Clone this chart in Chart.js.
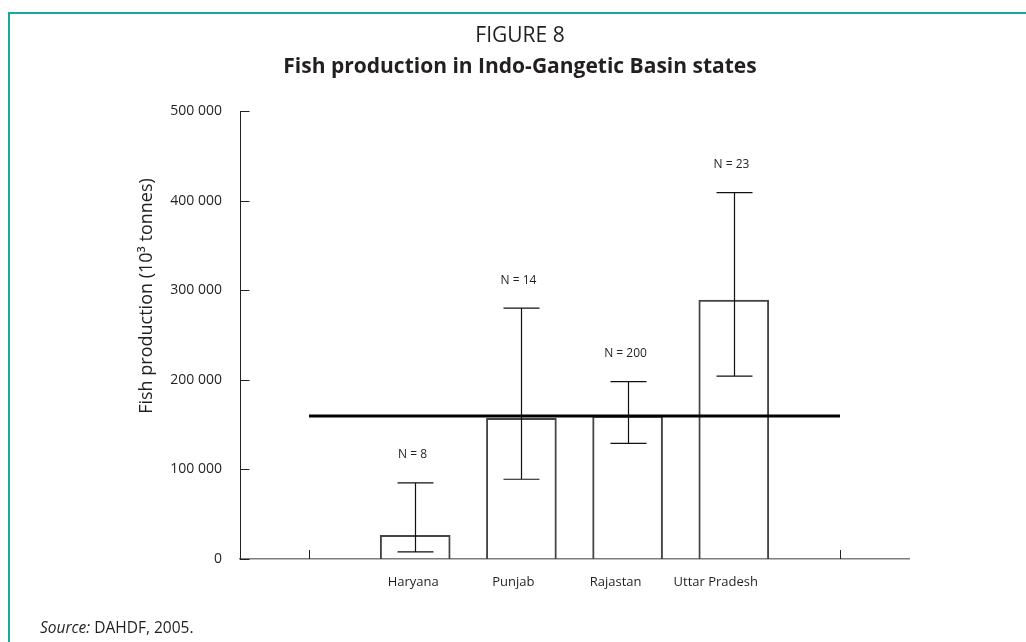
<!DOCTYPE html>
<html>
<head>
<meta charset="utf-8">
<script src="https://cdn.jsdelivr.net/npm/chart.js@4/dist/chart.umd.min.js"></script>
<style>
  html, body { margin: 0; padding: 0; background: #ffffff; }
  #wrap { width: 1026px; height: 642px; position: relative; }
  canvas { display: block; }
</style>
</head>
<body>
<div id="wrap"><canvas id="chart" width="1026" height="642"></canvas></div>
<script>
// ---- data ----
const states = ['Haryana', 'Punjab', 'Rajastan', 'Uttar Pradesh'];
const production = [26500, 157000, 159500, 289000];
const errorLow = [8000, 89000, 129000, 204000];
const errorHigh = [85000, 280000, 198000, 409000];
const sampleSizes = [8, 14, 200, 23];
const meanProduction = 159500;
const yTickValues = [0, 100000, 200000, 300000, 400000, 500000];

// ---- derived positions in category units ----
const slotOf = i => i + 2;                 // first and last slots are empty
const firstSlot = 1;
const lastSlot = states.length + 2;

const TEXT = '#231f20';
const FONT = '"Open Sans", "Noto Sans", sans-serif';
const fmt = v => String(v).replace(/\B(?=(\d{3})+(?!\d))/g, ' ');
const labelNudgePx = [-2, -8, -12, -18];

const decor = {
  id: 'decor',
  beforeDraw(chart) {
    const ctx = chart.ctx;
    ctx.save();
    ctx.fillStyle = '#ffffff';
    ctx.fillRect(0, 0, chart.width, chart.height);
    ctx.restore();
  },
  afterDraw(chart) {
    const { ctx, scales: { x, y } } = chart;
    ctx.save();
    // frame
    ctx.strokeStyle = '#1ba79d';
    ctx.lineWidth = 2;
    ctx.beginPath();
    ctx.moveTo(9, chart.height);
    ctx.lineTo(9, 13);
    ctx.lineTo(chart.width, 13);
    ctx.stroke();

    // titles
    ctx.fillStyle = TEXT;
    ctx.textAlign = 'center';
    ctx.textBaseline = 'middle';
    ctx.font = '21px ' + FONT;
    ctx.fillText('FIGURE 8', 520, 36);
    ctx.font = 'bold 21px ' + FONT;
    ctx.fillText('Fish production in Indo-Gangetic Basin states', 520, 67);

    // y axis title
    ctx.save();
    ctx.translate(147, 296);
    ctx.rotate(-Math.PI / 2);
    ctx.font = '18px ' + FONT;
    ctx.fillText('Fish production (10\u00B3 tonnes)', 0, 0);
    ctx.restore();

    // inward y ticks
    ctx.strokeStyle = '#222';
    ctx.lineWidth = 1;
    const ax = Math.round(x.left) + 0.5;
    y.ticks.forEach(t => {
      const py = Math.round(y.getPixelForValue(t.value)) + 0.5;
      ctx.beginPath();
      ctx.moveTo(ax, py);
      ctx.lineTo(ax + 9, py);
      ctx.stroke();
    });
    // upward x ticks at the empty end slots
    [firstSlot, lastSlot].forEach(v => {
      const px = Math.round(x.getPixelForValue(v)) + 0.5;
      ctx.beginPath();
      ctx.moveTo(px, y.bottom);
      ctx.lineTo(px, y.bottom - 9);
      ctx.stroke();
    });

    // error bars
    ctx.strokeStyle = '#111';
    ctx.lineWidth = 1.2;
    const cap = 18;
    states.forEach((s, i) => {
      const px = Math.round(x.getPixelForValue(slotOf(i))) + 0.5;
      const top = y.getPixelForValue(errorHigh[i]);
      const bot = y.getPixelForValue(errorLow[i]);
      ctx.beginPath();
      ctx.moveTo(px, top); ctx.lineTo(px, bot);
      ctx.moveTo(px - cap, top); ctx.lineTo(px + cap, top);
      ctx.moveTo(px - cap, bot); ctx.lineTo(px + cap, bot);
      ctx.stroke();
      // N labels
      ctx.font = '12px ' + FONT;
      ctx.fillStyle = TEXT;
      ctx.textAlign = 'center';
      ctx.textBaseline = 'middle';
      ctx.fillText('N = ' + sampleSizes[i], px - 3, top - 28);
    });

    // source
    ctx.textAlign = 'left';
    ctx.textBaseline = 'middle';
    ctx.font = 'italic 15.5px ' + FONT;
    const srcX = 40, srcY = 629;
    ctx.fillText('Source:', srcX, srcY);
    const w = ctx.measureText('Source:').width;
    ctx.font = '15.5px ' + FONT;
    ctx.fillText(' DAHDF, 2005.', srcX + w, srcY);
    ctx.restore();
  }
};

new Chart(document.getElementById('chart'), {
  type: 'bar',
  data: {
    datasets: [
      {
        type: 'line',
        label: 'Mean',
        data: [{ x: firstSlot, y: meanProduction }, { x: lastSlot, y: meanProduction }],
        borderColor: '#000000',
        borderWidth: 3,
        pointRadius: 0,
        fill: false,
        order: 0
      },
      {
        type: 'bar',
        label: 'Fish production',
        data: states.map((s, i) => ({ x: slotOf(i), y: production[i] })),
        backgroundColor: 'rgba(255,255,255,0)',
        borderColor: '#444444',
        borderWidth: 1.3,
        barThickness: 70,
        order: 1
      }
    ]
  },
  plugins: [decor],
  options: {
    responsive: false,
    devicePixelRatio: 1,
    animation: false,
    layout: { padding: { top: 111, right: 117, left: 0, bottom: 0 } },
    plugins: {
      legend: { display: false },
      tooltip: { enabled: false },
      title: { display: false }
    },
    scales: {
      x: {
        type: 'linear',
        offset: false,
        min: firstSlot - 0.65,
        max: lastSlot + 0.65,
        grid: { display: false, drawTicks: false, offset: false },
        border: { display: true, color: '#7d7d7d', width: 1.6 },
        afterBuildTicks: scale => {
          const unit = 669 / (scale.max - scale.min);
          scale.ticks = states.map((s, i) => ({ value: slotOf(i) + labelNudgePx[i] / unit }));
        },
        afterFit: scale => { scale.height = 83; },
        ticks: {
          autoSkip: false,
          maxRotation: 0,
          padding: 15,
          color: TEXT,
          font: { family: FONT, size: 13 },
          callback: (v, idx) => states[idx]
        }
      },
      y: {
        min: 0,
        max: 500000,
        grid: { display: false, drawTicks: false },
        border: { display: true, color: '#222222', width: 1 },
        afterBuildTicks: scale => { scale.ticks = yTickValues.map(v => ({ value: v })); },
        afterFit: scale => { scale.width = 240; },
        ticks: {
          padding: 18,
          color: TEXT,
          font: { family: FONT, size: 14 },
          callback: v => fmt(v)
        }
      }
    }
  }
});
</script>
</body>
</html>
